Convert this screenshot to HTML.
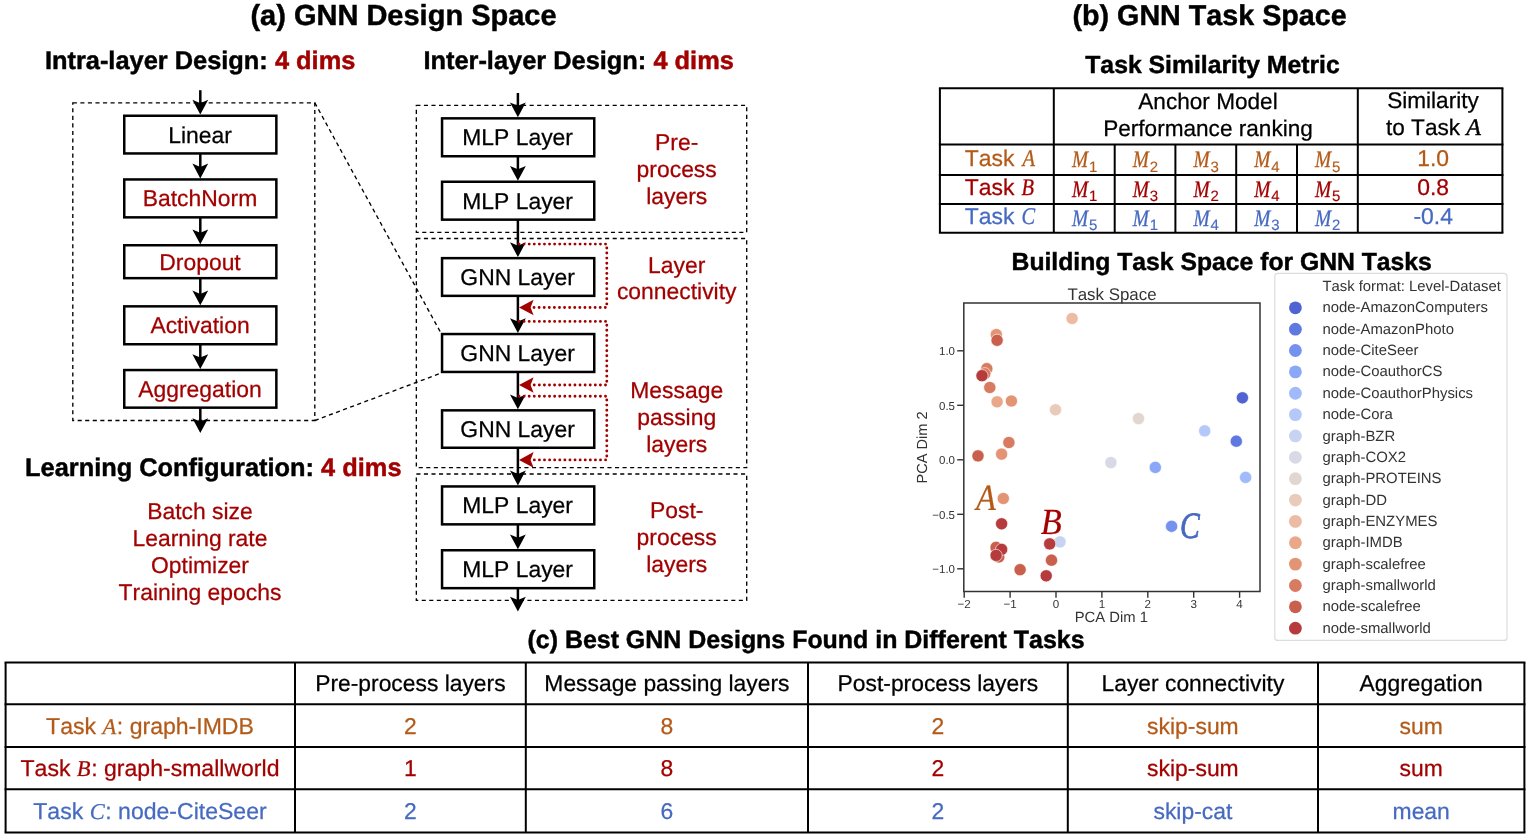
<!DOCTYPE html>
<html><head><meta charset="utf-8"><title>GNN Design Space</title>
<style>
html,body{margin:0;padding:0;background:#fff;}
body{width:1530px;height:837px;overflow:hidden;font-family:"Liberation Sans",sans-serif;}
svg{display:block;font-family:"Liberation Sans",sans-serif;will-change:transform;}
svg text{paint-order:stroke fill;font-kerning:none;text-rendering:geometricPrecision;}
</style></head><body>
<svg width="1530" height="837" viewBox="0 0 1530 837">
<rect width="1530" height="837" fill="#fff"/>
<text x="403.5" y="25.0" font-size="29.0" fill="#000" stroke="#000" stroke-width="0.45" text-anchor="middle" font-weight="bold" >(a) GNN Design Space</text>
<text x="44.9" y="69.2" font-size="25.4" font-weight="bold" stroke-width="0.45"><tspan stroke="#000">Intra-layer Design: </tspan><tspan fill="#a30000" stroke="#a30000">4 dims</tspan></text>
<text x="423.4" y="69.2" font-size="25.4" font-weight="bold" stroke-width="0.45"><tspan stroke="#000">Inter-layer Design: </tspan><tspan fill="#a30000" stroke="#a30000">4 dims</tspan></text>
<text x="25.1" y="476.3" font-size="25.38" font-weight="bold" stroke-width="0.45"><tspan stroke="#000">Learning Configuration: </tspan><tspan fill="#a30000" stroke="#a30000">4 dims</tspan></text>
<rect x="72.8" y="102.8" width="242.0" height="317.7" fill="none" stroke="#000" stroke-width="1.35" stroke-dasharray="4.1 3.45"/>
<line x1="200.3" y1="90.2" x2="200.3" y2="108.6" stroke="#000" stroke-width="2.5"/>
<path d="M200.3 114.6 L192.4 99.8 L200.3 103.19999999999999 L208.20000000000002 99.8 Z" fill="#000"/>
<line x1="200.3" y1="153.7" x2="200.3" y2="172.39999999999998" stroke="#000" stroke-width="2.5"/>
<path d="M200.3 178.39999999999998 L192.4 163.59999999999997 L200.3 166.99999999999997 L208.20000000000002 163.59999999999997 Z" fill="#000"/>
<line x1="200.3" y1="217.6" x2="200.3" y2="238.2" stroke="#000" stroke-width="2.5"/>
<path d="M200.3 244.2 L192.4 229.39999999999998 L200.3 232.79999999999998 L208.20000000000002 229.39999999999998 Z" fill="#000"/>
<line x1="200.3" y1="278.4" x2="200.3" y2="299.3" stroke="#000" stroke-width="2.5"/>
<path d="M200.3 305.3 L192.4 290.5 L200.3 293.90000000000003 L208.20000000000002 290.5 Z" fill="#000"/>
<line x1="200.3" y1="344.5" x2="200.3" y2="363.0" stroke="#000" stroke-width="2.5"/>
<path d="M200.3 369.0 L192.4 354.2 L200.3 357.6 L208.20000000000002 354.2 Z" fill="#000"/>
<line x1="200.3" y1="408" x2="200.3" y2="427" stroke="#000" stroke-width="2.5"/>
<path d="M200.3 433 L192.4 418.2 L200.3 421.6 L208.20000000000002 418.2 Z" fill="#000"/>
<rect x="124.25" y="115.75" width="152.10" height="37.70" fill="none" stroke="#000" stroke-width="2.5"/>
<text x="200.0" y="142.5" font-size="22.9" fill="#000" stroke="#000" stroke-width="0.25" text-anchor="middle" font-weight="normal" >Linear</text>
<rect x="124.25" y="179.45" width="152.10" height="37.90" fill="none" stroke="#000" stroke-width="2.5"/>
<text x="200.0" y="206.29999999999998" font-size="22.9" fill="#a30000" stroke="#a30000" stroke-width="0.25" text-anchor="middle" font-weight="normal" >BatchNorm</text>
<rect x="124.25" y="245.25" width="152.10" height="32.90" fill="none" stroke="#000" stroke-width="2.5"/>
<text x="200.0" y="269.59999999999997" font-size="22.9" fill="#a30000" stroke="#a30000" stroke-width="0.25" text-anchor="middle" font-weight="normal" >Dropout</text>
<rect x="124.25" y="306.35" width="152.10" height="37.90" fill="none" stroke="#000" stroke-width="2.5"/>
<text x="200.0" y="333.2" font-size="22.9" fill="#a30000" stroke="#a30000" stroke-width="0.25" text-anchor="middle" font-weight="normal" >Activation</text>
<rect x="124.25" y="370.05" width="152.10" height="37.60" fill="none" stroke="#000" stroke-width="2.5"/>
<text x="200.0" y="396.75" font-size="22.9" fill="#a30000" stroke="#a30000" stroke-width="0.25" text-anchor="middle" font-weight="normal" >Aggregation</text>
<line x1="314.8" y1="102.8" x2="440.8" y2="332.8" stroke="#000" stroke-width="1.35" stroke-dasharray="4.1 3.45"/>
<line x1="314.8" y1="420.5" x2="440.8" y2="373.2" stroke="#000" stroke-width="1.35" stroke-dasharray="4.1 3.45"/>
<text x="200" y="519.3" font-size="22.9" fill="#a30000" stroke="#a30000" stroke-width="0.25" text-anchor="middle" font-weight="normal" >Batch size</text>
<text x="200" y="546.15" font-size="22.9" fill="#a30000" stroke="#a30000" stroke-width="0.25" text-anchor="middle" font-weight="normal" >Learning rate</text>
<text x="200" y="573.0" font-size="22.9" fill="#a30000" stroke="#a30000" stroke-width="0.25" text-anchor="middle" font-weight="normal" >Optimizer</text>
<text x="200" y="599.8499999999999" font-size="22.9" fill="#a30000" stroke="#a30000" stroke-width="0.25" text-anchor="middle" font-weight="normal" >Training epochs</text>
<rect x="416.35" y="105.4" width="330.35" height="126.9" fill="none" stroke="#000" stroke-width="1.35" stroke-dasharray="4.1 3.45"/>
<rect x="416.35" y="238.5" width="330.35" height="229.10000000000002" fill="none" stroke="#000" stroke-width="1.35" stroke-dasharray="4.1 3.45"/>
<rect x="416.35" y="474.0" width="330.35" height="126.39999999999998" fill="none" stroke="#000" stroke-width="1.35" stroke-dasharray="4.1 3.45"/>
<line x1="517.9" y1="93" x2="517.9" y2="111.2" stroke="#000" stroke-width="2.5"/>
<path d="M517.9 117.2 L510.0 102.4 L517.9 105.8 L525.8 102.4 Z" fill="#000"/>
<line x1="517.9" y1="156.5" x2="517.9" y2="174.7" stroke="#000" stroke-width="2.5"/>
<path d="M517.9 180.7 L510.0 165.89999999999998 L517.9 169.29999999999998 L525.8 165.89999999999998 Z" fill="#000"/>
<line x1="517.9" y1="219.9" x2="517.9" y2="251.09999999999997" stroke="#000" stroke-width="2.5"/>
<path d="M517.9 257.09999999999997 L510.0 242.29999999999995 L517.9 245.69999999999996 L525.8 242.29999999999995 Z" fill="#000"/>
<line x1="517.9" y1="296.1" x2="517.9" y2="327.0" stroke="#000" stroke-width="2.5"/>
<path d="M517.9 333.0 L510.0 318.2 L517.9 321.6 L525.8 318.2 Z" fill="#000"/>
<line x1="517.9" y1="372.2" x2="517.9" y2="403.3" stroke="#000" stroke-width="2.5"/>
<path d="M517.9 409.3 L510.0 394.5 L517.9 397.90000000000003 L525.8 394.5 Z" fill="#000"/>
<line x1="517.9" y1="448.0" x2="517.9" y2="479.4" stroke="#000" stroke-width="2.5"/>
<path d="M517.9 485.4 L510.0 470.59999999999997 L517.9 474.0 L525.8 470.59999999999997 Z" fill="#000"/>
<line x1="517.9" y1="524.6" x2="517.9" y2="543.2" stroke="#000" stroke-width="2.5"/>
<path d="M517.9 549.2 L510.0 534.4000000000001 L517.9 537.8000000000001 L525.8 534.4000000000001 Z" fill="#000"/>
<line x1="517.9" y1="588.4" x2="517.9" y2="605.5" stroke="#000" stroke-width="2.5"/>
<path d="M517.9 611.5 L510.0 596.7 L517.9 600.1 L525.8 596.7 Z" fill="#000"/>
<rect x="442.05" y="118.35" width="152.20" height="37.90" fill="none" stroke="#000" stroke-width="2.5"/>
<text x="517.6" y="145.20000000000002" font-size="22.9" fill="#000" stroke="#000" stroke-width="0.25" text-anchor="middle" font-weight="normal" >MLP Layer</text>
<rect x="442.05" y="181.75" width="152.20" height="37.90" fill="none" stroke="#000" stroke-width="2.5"/>
<text x="517.6" y="208.6" font-size="22.9" fill="#000" stroke="#000" stroke-width="0.25" text-anchor="middle" font-weight="normal" >MLP Layer</text>
<rect x="442.05" y="258.15" width="152.20" height="37.70" fill="none" stroke="#000" stroke-width="2.5"/>
<text x="517.6" y="284.9" font-size="22.9" fill="#000" stroke="#000" stroke-width="0.25" text-anchor="middle" font-weight="normal" >GNN Layer</text>
<rect x="442.05" y="334.05" width="152.20" height="37.90" fill="none" stroke="#000" stroke-width="2.5"/>
<text x="517.6" y="360.9" font-size="22.9" fill="#000" stroke="#000" stroke-width="0.25" text-anchor="middle" font-weight="normal" >GNN Layer</text>
<rect x="442.05" y="410.35" width="152.20" height="37.40" fill="none" stroke="#000" stroke-width="2.5"/>
<text x="517.6" y="436.95" font-size="22.9" fill="#000" stroke="#000" stroke-width="0.25" text-anchor="middle" font-weight="normal" >GNN Layer</text>
<rect x="442.05" y="486.45" width="152.20" height="37.90" fill="none" stroke="#000" stroke-width="2.5"/>
<text x="517.6" y="513.3" font-size="22.9" fill="#000" stroke="#000" stroke-width="0.25" text-anchor="middle" font-weight="normal" >MLP Layer</text>
<rect x="442.05" y="550.25" width="152.20" height="37.90" fill="none" stroke="#000" stroke-width="2.5"/>
<text x="517.6" y="577.1" font-size="22.9" fill="#000" stroke="#000" stroke-width="0.25" text-anchor="middle" font-weight="normal" >MLP Layer</text>
<path d="M519.0 244.1 H606.8 V307.5 H531.9" fill="none" stroke="#a30000" stroke-width="2.9" stroke-linecap="round" stroke-dasharray="0.01 5.08"/>
<path d="M519.0 307.5 L533.6 299.7 L530.6 307.5 L533.6 315.3 Z" fill="#a30000"/>
<path d="M519.0 321.4 H606.8 V385.0 H531.9" fill="none" stroke="#a30000" stroke-width="2.9" stroke-linecap="round" stroke-dasharray="0.01 5.08"/>
<path d="M519.0 385.0 L533.6 377.2 L530.6 385.0 L533.6 392.8 Z" fill="#a30000"/>
<path d="M519.0 396.2 H606.8 V459.9 H531.9" fill="none" stroke="#a30000" stroke-width="2.9" stroke-linecap="round" stroke-dasharray="0.01 5.08"/>
<path d="M519.0 459.9 L533.6 452.09999999999997 L530.6 459.9 L533.6 467.7 Z" fill="#a30000"/>
<text x="676.7" y="150.4" font-size="22.9" fill="#a30000" stroke="#a30000" stroke-width="0.25" text-anchor="middle" font-weight="normal" >Pre-</text>
<text x="676.7" y="177.20000000000002" font-size="22.9" fill="#a30000" stroke="#a30000" stroke-width="0.25" text-anchor="middle" font-weight="normal" >process</text>
<text x="676.7" y="204.0" font-size="22.9" fill="#a30000" stroke="#a30000" stroke-width="0.25" text-anchor="middle" font-weight="normal" >layers</text>
<text x="676.7" y="272.5" font-size="22.9" fill="#a30000" stroke="#a30000" stroke-width="0.25" text-anchor="middle" font-weight="normal" >Layer</text>
<text x="676.7" y="299.3" font-size="22.9" fill="#a30000" stroke="#a30000" stroke-width="0.25" text-anchor="middle" font-weight="normal" >connectivity</text>
<text x="676.7" y="398.2" font-size="22.9" fill="#a30000" stroke="#a30000" stroke-width="0.25" text-anchor="middle" font-weight="normal" >Message</text>
<text x="676.7" y="425.0" font-size="22.9" fill="#a30000" stroke="#a30000" stroke-width="0.25" text-anchor="middle" font-weight="normal" >passing</text>
<text x="676.7" y="451.8" font-size="22.9" fill="#a30000" stroke="#a30000" stroke-width="0.25" text-anchor="middle" font-weight="normal" >layers</text>
<text x="676.7" y="518.1" font-size="22.9" fill="#a30000" stroke="#a30000" stroke-width="0.25" text-anchor="middle" font-weight="normal" >Post-</text>
<text x="676.7" y="544.9" font-size="22.9" fill="#a30000" stroke="#a30000" stroke-width="0.25" text-anchor="middle" font-weight="normal" >process</text>
<text x="676.7" y="571.7" font-size="22.9" fill="#a30000" stroke="#a30000" stroke-width="0.25" text-anchor="middle" font-weight="normal" >layers</text>
<text x="1209.6" y="25.0" font-size="28.7" fill="#000" stroke="#000" stroke-width="0.45" text-anchor="middle" font-weight="bold" >(b) GNN Task Space</text>
<text x="1212.5" y="72.6" font-size="24.75" fill="#000" stroke="#000" stroke-width="0.45" text-anchor="middle" font-weight="bold" >Task Similarity Metric</text>
<text x="1221.7" y="270.1" font-size="24.72" fill="#000" stroke="#000" stroke-width="0.45" text-anchor="middle" font-weight="bold" >Building Task Space for GNN Tasks</text>
<line x1="938.9" y1="88.2" x2="1503.4" y2="88.2" stroke="#000" stroke-width="2"/>
<line x1="938.9" y1="144.5" x2="1503.4" y2="144.5" stroke="#000" stroke-width="2"/>
<line x1="938.9" y1="175.1" x2="1503.4" y2="175.1" stroke="#000" stroke-width="2"/>
<line x1="938.9" y1="203.9" x2="1503.4" y2="203.9" stroke="#000" stroke-width="2"/>
<line x1="938.9" y1="232.7" x2="1503.4" y2="232.7" stroke="#000" stroke-width="2"/>
<line x1="939.9" y1="88.2" x2="939.9" y2="232.7" stroke="#000" stroke-width="2"/>
<line x1="1502.4" y1="88.2" x2="1502.4" y2="232.7" stroke="#000" stroke-width="2"/>
<line x1="1053.8" y1="88.2" x2="1053.8" y2="232.7" stroke="#000" stroke-width="2"/>
<line x1="1357.8" y1="88.2" x2="1357.8" y2="232.7" stroke="#000" stroke-width="2"/>
<line x1="1114.7" y1="144.5" x2="1114.7" y2="232.7" stroke="#000" stroke-width="2"/>
<line x1="1175.4" y1="144.5" x2="1175.4" y2="232.7" stroke="#000" stroke-width="2"/>
<line x1="1236.2" y1="144.5" x2="1236.2" y2="232.7" stroke="#000" stroke-width="2"/>
<line x1="1297" y1="144.5" x2="1297" y2="232.7" stroke="#000" stroke-width="2"/>
<text x="1208" y="108.6" font-size="22.6" fill="#000" stroke="#000" stroke-width="0.25" text-anchor="middle" font-weight="normal" >Anchor Model</text>
<text x="1208" y="135.6" font-size="22.6" fill="#000" stroke="#000" stroke-width="0.25" text-anchor="middle" font-weight="normal" >Performance ranking</text>
<text x="1433" y="108.3" font-size="22.6" fill="#000" stroke="#000" stroke-width="0.25" text-anchor="middle" font-weight="normal" >Similarity</text>
<text x="1433.5" y="135.4" font-size="22.6" text-anchor="middle" stroke="#000" stroke-width="0.25">to Task <tspan font-family="Liberation Serif" font-style="italic" font-size="24" stroke-width="0.4">A</tspan></text>
<text x="1014.4" y="165.7" font-size="22.9" fill="#b35a18" stroke="#b35a18" stroke-width="0.25" text-anchor="end">Task</text>
<text transform="translate(1022.6,165.7) scale(0.86,1)" font-size="23.8" fill="#b35a18" stroke="#b35a18" stroke-width="0.3" font-family="Liberation Serif" font-style="italic">A</text>
<text transform="translate(1071.95,167.0) scale(0.82,1)" font-size="23.6" fill="#b35a18" stroke="#b35a18" stroke-width="0.3" font-family="Liberation Serif" font-style="italic">M</text>
<text x="1088.95" y="171.7" font-size="15" fill="#b35a18" stroke="#b35a18" stroke-width="0.15">1</text>
<text transform="translate(1132.75,167.0) scale(0.82,1)" font-size="23.6" fill="#b35a18" stroke="#b35a18" stroke-width="0.3" font-family="Liberation Serif" font-style="italic">M</text>
<text x="1149.75" y="171.7" font-size="15" fill="#b35a18" stroke="#b35a18" stroke-width="0.15">2</text>
<text transform="translate(1193.50,167.0) scale(0.82,1)" font-size="23.6" fill="#b35a18" stroke="#b35a18" stroke-width="0.3" font-family="Liberation Serif" font-style="italic">M</text>
<text x="1210.50" y="171.7" font-size="15" fill="#b35a18" stroke="#b35a18" stroke-width="0.15">3</text>
<text transform="translate(1254.30,167.0) scale(0.82,1)" font-size="23.6" fill="#b35a18" stroke="#b35a18" stroke-width="0.3" font-family="Liberation Serif" font-style="italic">M</text>
<text x="1271.30" y="171.7" font-size="15" fill="#b35a18" stroke="#b35a18" stroke-width="0.15">4</text>
<text transform="translate(1315.10,167.0) scale(0.82,1)" font-size="23.6" fill="#b35a18" stroke="#b35a18" stroke-width="0.3" font-family="Liberation Serif" font-style="italic">M</text>
<text x="1332.10" y="171.7" font-size="15" fill="#b35a18" stroke="#b35a18" stroke-width="0.15">5</text>
<text x="1433.2" y="165.7" font-size="22.9" fill="#b35a18" stroke="#b35a18" stroke-width="0.25" text-anchor="middle" font-weight="normal" >1.0</text>
<text x="1014.4" y="195.2" font-size="22.9" fill="#a30000" stroke="#a30000" stroke-width="0.25" text-anchor="end">Task</text>
<text transform="translate(1021.6,195.2) scale(0.86,1)" font-size="23.8" fill="#a30000" stroke="#a30000" stroke-width="0.3" font-family="Liberation Serif" font-style="italic">B</text>
<text transform="translate(1071.95,196.5) scale(0.82,1)" font-size="23.6" fill="#a30000" stroke="#a30000" stroke-width="0.3" font-family="Liberation Serif" font-style="italic">M</text>
<text x="1088.95" y="201.2" font-size="15" fill="#a30000" stroke="#a30000" stroke-width="0.15">1</text>
<text transform="translate(1132.75,196.5) scale(0.82,1)" font-size="23.6" fill="#a30000" stroke="#a30000" stroke-width="0.3" font-family="Liberation Serif" font-style="italic">M</text>
<text x="1149.75" y="201.2" font-size="15" fill="#a30000" stroke="#a30000" stroke-width="0.15">3</text>
<text transform="translate(1193.50,196.5) scale(0.82,1)" font-size="23.6" fill="#a30000" stroke="#a30000" stroke-width="0.3" font-family="Liberation Serif" font-style="italic">M</text>
<text x="1210.50" y="201.2" font-size="15" fill="#a30000" stroke="#a30000" stroke-width="0.15">2</text>
<text transform="translate(1254.30,196.5) scale(0.82,1)" font-size="23.6" fill="#a30000" stroke="#a30000" stroke-width="0.3" font-family="Liberation Serif" font-style="italic">M</text>
<text x="1271.30" y="201.2" font-size="15" fill="#a30000" stroke="#a30000" stroke-width="0.15">4</text>
<text transform="translate(1315.10,196.5) scale(0.82,1)" font-size="23.6" fill="#a30000" stroke="#a30000" stroke-width="0.3" font-family="Liberation Serif" font-style="italic">M</text>
<text x="1332.10" y="201.2" font-size="15" fill="#a30000" stroke="#a30000" stroke-width="0.15">5</text>
<text x="1433.2" y="195.2" font-size="22.9" fill="#a30000" stroke="#a30000" stroke-width="0.25" text-anchor="middle" font-weight="normal" >0.8</text>
<text x="1014.4" y="224.2" font-size="22.9" fill="#4669c1" stroke="#4669c1" stroke-width="0.25" text-anchor="end">Task</text>
<text transform="translate(1021.6,224.2) scale(0.86,1)" font-size="23.8" fill="#4669c1" stroke="#4669c1" stroke-width="0.3" font-family="Liberation Serif" font-style="italic">C</text>
<text transform="translate(1071.95,225.5) scale(0.82,1)" font-size="23.6" fill="#4669c1" stroke="#4669c1" stroke-width="0.3" font-family="Liberation Serif" font-style="italic">M</text>
<text x="1088.95" y="230.2" font-size="15" fill="#4669c1" stroke="#4669c1" stroke-width="0.15">5</text>
<text transform="translate(1132.75,225.5) scale(0.82,1)" font-size="23.6" fill="#4669c1" stroke="#4669c1" stroke-width="0.3" font-family="Liberation Serif" font-style="italic">M</text>
<text x="1149.75" y="230.2" font-size="15" fill="#4669c1" stroke="#4669c1" stroke-width="0.15">1</text>
<text transform="translate(1193.50,225.5) scale(0.82,1)" font-size="23.6" fill="#4669c1" stroke="#4669c1" stroke-width="0.3" font-family="Liberation Serif" font-style="italic">M</text>
<text x="1210.50" y="230.2" font-size="15" fill="#4669c1" stroke="#4669c1" stroke-width="0.15">4</text>
<text transform="translate(1254.30,225.5) scale(0.82,1)" font-size="23.6" fill="#4669c1" stroke="#4669c1" stroke-width="0.3" font-family="Liberation Serif" font-style="italic">M</text>
<text x="1271.30" y="230.2" font-size="15" fill="#4669c1" stroke="#4669c1" stroke-width="0.15">3</text>
<text transform="translate(1315.10,225.5) scale(0.82,1)" font-size="23.6" fill="#4669c1" stroke="#4669c1" stroke-width="0.3" font-family="Liberation Serif" font-style="italic">M</text>
<text x="1332.10" y="230.2" font-size="15" fill="#4669c1" stroke="#4669c1" stroke-width="0.15">2</text>
<text x="1433.2" y="224.2" font-size="22.9" fill="#4669c1" stroke="#4669c1" stroke-width="0.25" text-anchor="middle" font-weight="normal" >-0.4</text>
<rect x="963.8" y="303.0" width="296.20000000000005" height="288.5" fill="#fff" stroke="#333" stroke-width="1.5"/>
<text x="1112" y="299.7" font-size="16.9" fill="#333" stroke="#333" stroke-width="0" text-anchor="middle" font-weight="normal" >Task Space</text>
<text x="1111.3" y="622.3" font-size="14.8" fill="#333" stroke="#333" stroke-width="0" text-anchor="middle" font-weight="normal" >PCA Dim 1</text>
<text transform="translate(926.7,447.5) rotate(-90)" font-size="14.6" fill="#333" text-anchor="middle">PCA Dim 2</text>
<line x1="964.2" y1="591.5" x2="964.2" y2="597.8" stroke="#333" stroke-width="1.4"/>
<text x="964.2" y="608.0" font-size="11.6" fill="#333" stroke="#333" stroke-width="0" text-anchor="middle" font-weight="normal" >−2</text>
<line x1="1010.1" y1="591.5" x2="1010.1" y2="597.8" stroke="#333" stroke-width="1.4"/>
<text x="1010.1" y="608.0" font-size="11.6" fill="#333" stroke="#333" stroke-width="0" text-anchor="middle" font-weight="normal" >−1</text>
<line x1="1056.0" y1="591.5" x2="1056.0" y2="597.8" stroke="#333" stroke-width="1.4"/>
<text x="1056.0" y="608.0" font-size="11.6" fill="#333" stroke="#333" stroke-width="0" text-anchor="middle" font-weight="normal" >0</text>
<line x1="1101.9" y1="591.5" x2="1101.9" y2="597.8" stroke="#333" stroke-width="1.4"/>
<text x="1101.9" y="608.0" font-size="11.6" fill="#333" stroke="#333" stroke-width="0" text-anchor="middle" font-weight="normal" >1</text>
<line x1="1147.8" y1="591.5" x2="1147.8" y2="597.8" stroke="#333" stroke-width="1.4"/>
<text x="1147.8" y="608.0" font-size="11.6" fill="#333" stroke="#333" stroke-width="0" text-anchor="middle" font-weight="normal" >2</text>
<line x1="1193.7" y1="591.5" x2="1193.7" y2="597.8" stroke="#333" stroke-width="1.4"/>
<text x="1193.7" y="608.0" font-size="11.6" fill="#333" stroke="#333" stroke-width="0" text-anchor="middle" font-weight="normal" >3</text>
<line x1="1239.6" y1="591.5" x2="1239.6" y2="597.8" stroke="#333" stroke-width="1.4"/>
<text x="1239.6" y="608.0" font-size="11.6" fill="#333" stroke="#333" stroke-width="0" text-anchor="middle" font-weight="normal" >4</text>
<line x1="957.2" y1="350.8" x2="963.8" y2="350.8" stroke="#333" stroke-width="1.4"/>
<text x="955.0" y="355.2" font-size="11.5" fill="#333" stroke="#333" stroke-width="0" text-anchor="end" font-weight="normal" >1.0</text>
<line x1="957.2" y1="405.3" x2="963.8" y2="405.3" stroke="#333" stroke-width="1.4"/>
<text x="955.0" y="409.7" font-size="11.5" fill="#333" stroke="#333" stroke-width="0" text-anchor="end" font-weight="normal" >0.5</text>
<line x1="957.2" y1="459.8" x2="963.8" y2="459.8" stroke="#333" stroke-width="1.4"/>
<text x="955.0" y="464.2" font-size="11.5" fill="#333" stroke="#333" stroke-width="0" text-anchor="end" font-weight="normal" >0.0</text>
<line x1="957.2" y1="514.3" x2="963.8" y2="514.3" stroke="#333" stroke-width="1.4"/>
<text x="955.0" y="518.6999999999999" font-size="11.5" fill="#333" stroke="#333" stroke-width="0" text-anchor="end" font-weight="normal" >−0.5</text>
<line x1="957.2" y1="568.8" x2="963.8" y2="568.8" stroke="#333" stroke-width="1.4"/>
<text x="955.0" y="573.1999999999999" font-size="11.5" fill="#333" stroke="#333" stroke-width="0" text-anchor="end" font-weight="normal" >−1.0</text>
<circle cx="1060" cy="541.9" r="6.1" fill="#c6d3f1" stroke="#fff" stroke-width="0.7" stroke-opacity="0.85"/>
<circle cx="1072.1" cy="318.5" r="6.1" fill="#ecbba3" stroke="#fff" stroke-width="0.7" stroke-opacity="0.85"/>
<circle cx="996.3" cy="334.6" r="6.1" fill="#e39475" stroke="#fff" stroke-width="0.7" stroke-opacity="0.85"/>
<circle cx="997.1" cy="340.3" r="6.1" fill="#c9604e" stroke="#fff" stroke-width="0.7" stroke-opacity="0.85"/>
<circle cx="986.8" cy="368.7" r="6.1" fill="#d77b61" stroke="#fff" stroke-width="0.7" stroke-opacity="0.85"/>
<circle cx="984.8" cy="373.7" r="6.1" fill="#d77b61" stroke="#fff" stroke-width="0.7" stroke-opacity="0.85"/>
<circle cx="982" cy="375.7" r="6.1" fill="#b63b3c" stroke="#fff" stroke-width="0.7" stroke-opacity="0.85"/>
<circle cx="989.8" cy="387.5" r="6.1" fill="#d77b61" stroke="#fff" stroke-width="0.7" stroke-opacity="0.85"/>
<circle cx="997.1" cy="401.8" r="6.1" fill="#eaa88b" stroke="#fff" stroke-width="0.7" stroke-opacity="0.85"/>
<circle cx="1011.4" cy="401" r="6.1" fill="#e39475" stroke="#fff" stroke-width="0.7" stroke-opacity="0.85"/>
<circle cx="1055.5" cy="409.8" r="6.1" fill="#e9cbbb" stroke="#fff" stroke-width="0.7" stroke-opacity="0.85"/>
<circle cx="1138.5" cy="418.6" r="6.1" fill="#e1d7d0" stroke="#fff" stroke-width="0.7" stroke-opacity="0.85"/>
<circle cx="1242.4" cy="397.8" r="6.1" fill="#4f64d2" stroke="#fff" stroke-width="0.7" stroke-opacity="0.85"/>
<circle cx="1204.7" cy="430.9" r="6.1" fill="#b4c8f9" stroke="#fff" stroke-width="0.7" stroke-opacity="0.85"/>
<circle cx="1236.3" cy="441.2" r="6.1" fill="#5f79e0" stroke="#fff" stroke-width="0.7" stroke-opacity="0.85"/>
<circle cx="1008.9" cy="442.5" r="6.1" fill="#d77b61" stroke="#fff" stroke-width="0.7" stroke-opacity="0.85"/>
<circle cx="978" cy="455.9" r="6.1" fill="#c9604e" stroke="#fff" stroke-width="0.7" stroke-opacity="0.85"/>
<circle cx="1001.6" cy="454.1" r="6.1" fill="#e39475" stroke="#fff" stroke-width="0.7" stroke-opacity="0.85"/>
<circle cx="1110.9" cy="462.6" r="6.1" fill="#d5dae4" stroke="#fff" stroke-width="0.7" stroke-opacity="0.85"/>
<circle cx="1155.3" cy="467.4" r="6.1" fill="#8aa7f8" stroke="#fff" stroke-width="0.7" stroke-opacity="0.85"/>
<circle cx="1245.6" cy="477.4" r="6.1" fill="#a0bafb" stroke="#fff" stroke-width="0.7" stroke-opacity="0.85"/>
<circle cx="1003.3" cy="498.5" r="6.1" fill="#e39475" stroke="#fff" stroke-width="0.7" stroke-opacity="0.85"/>
<circle cx="1001.6" cy="523.8" r="6.1" fill="#b63b3c" stroke="#fff" stroke-width="0.7" stroke-opacity="0.85"/>
<circle cx="1049.7" cy="543.9" r="6.1" fill="#b63b3c" stroke="#fff" stroke-width="0.7" stroke-opacity="0.85"/>
<circle cx="1171.6" cy="526.3" r="6.1" fill="#7492ee" stroke="#fff" stroke-width="0.7" stroke-opacity="0.85"/>
<circle cx="996.1" cy="547.4" r="6.1" fill="#c9604e" stroke="#fff" stroke-width="0.7" stroke-opacity="0.85"/>
<circle cx="998.8" cy="556.9" r="6.1" fill="#c9604e" stroke="#fff" stroke-width="0.7" stroke-opacity="0.85"/>
<circle cx="1001.6" cy="549.4" r="6.1" fill="#b63b3c" stroke="#fff" stroke-width="0.7" stroke-opacity="0.85"/>
<circle cx="996.1" cy="555.4" r="6.1" fill="#b63b3c" stroke="#fff" stroke-width="0.7" stroke-opacity="0.85"/>
<circle cx="1051.5" cy="560.2" r="6.1" fill="#c9604e" stroke="#fff" stroke-width="0.7" stroke-opacity="0.85"/>
<circle cx="1020.1" cy="569.7" r="6.1" fill="#c9604e" stroke="#fff" stroke-width="0.7" stroke-opacity="0.85"/>
<circle cx="1046.2" cy="575.8" r="6.1" fill="#b63b3c" stroke="#fff" stroke-width="0.7" stroke-opacity="0.85"/>
<text transform="translate(975.9,510.0) scale(0.88,1)" font-size="37" fill="#b35a18" stroke="#b35a18" stroke-width="0.2" font-family="Liberation Serif" font-style="italic">A</text>
<text transform="translate(1040.8,534.0) scale(0.93,1)" font-size="37" fill="#a30000" stroke="#a30000" stroke-width="0.2" font-family="Liberation Serif" font-style="italic">B</text>
<text transform="translate(1180.0,537.6) scale(0.8,1)" font-size="37" fill="#4669c1" stroke="#4669c1" stroke-width="0.8" font-family="Liberation Serif" font-style="italic">C</text>
<rect x="1274.8" y="273.4" width="232.2" height="367" rx="3" fill="#fff" stroke="#dcdcdc" stroke-width="1.2"/>
<text x="1322.4" y="290.9" font-size="14.87" fill="#333" stroke="#333" stroke-width="0" text-anchor="start" font-weight="normal" >Task format: Level-Dataset</text>
<circle cx="1295.4" cy="307.8" r="6.4" fill="#4f64d2"/>
<text x="1322.4" y="312.40000000000003" font-size="14.9" fill="#333" stroke="#333" stroke-width="0" text-anchor="start" font-weight="normal" >node-AmazonComputers</text>
<circle cx="1295.4" cy="329.16" r="6.4" fill="#5f79e0"/>
<text x="1322.4" y="333.76000000000005" font-size="14.9" fill="#333" stroke="#333" stroke-width="0" text-anchor="start" font-weight="normal" >node-AmazonPhoto</text>
<circle cx="1295.4" cy="350.52" r="6.4" fill="#7492ee"/>
<text x="1322.4" y="355.12" font-size="14.9" fill="#333" stroke="#333" stroke-width="0" text-anchor="start" font-weight="normal" >node-CiteSeer</text>
<circle cx="1295.4" cy="371.88" r="6.4" fill="#8aa7f8"/>
<text x="1322.4" y="376.48" font-size="14.9" fill="#333" stroke="#333" stroke-width="0" text-anchor="start" font-weight="normal" >node-CoauthorCS</text>
<circle cx="1295.4" cy="393.24" r="6.4" fill="#a0bafb"/>
<text x="1322.4" y="397.84000000000003" font-size="14.9" fill="#333" stroke="#333" stroke-width="0" text-anchor="start" font-weight="normal" >node-CoauthorPhysics</text>
<circle cx="1295.4" cy="414.6" r="6.4" fill="#b4c8f9"/>
<text x="1322.4" y="419.20000000000005" font-size="14.9" fill="#333" stroke="#333" stroke-width="0" text-anchor="start" font-weight="normal" >node-Cora</text>
<circle cx="1295.4" cy="435.96000000000004" r="6.4" fill="#c6d3f1"/>
<text x="1322.4" y="440.56000000000006" font-size="14.9" fill="#333" stroke="#333" stroke-width="0" text-anchor="start" font-weight="normal" >graph-BZR</text>
<circle cx="1295.4" cy="457.32" r="6.4" fill="#d5dae4"/>
<text x="1322.4" y="461.92" font-size="14.9" fill="#333" stroke="#333" stroke-width="0" text-anchor="start" font-weight="normal" >graph-COX2</text>
<circle cx="1295.4" cy="478.68" r="6.4" fill="#e1d7d0"/>
<text x="1322.4" y="483.28000000000003" font-size="14.9" fill="#333" stroke="#333" stroke-width="0" text-anchor="start" font-weight="normal" >graph-PROTEINS</text>
<circle cx="1295.4" cy="500.04" r="6.4" fill="#e9cbbb"/>
<text x="1322.4" y="504.64000000000004" font-size="14.9" fill="#333" stroke="#333" stroke-width="0" text-anchor="start" font-weight="normal" >graph-DD</text>
<circle cx="1295.4" cy="521.4" r="6.4" fill="#ecbba3"/>
<text x="1322.4" y="526.0" font-size="14.9" fill="#333" stroke="#333" stroke-width="0" text-anchor="start" font-weight="normal" >graph-ENZYMES</text>
<circle cx="1295.4" cy="542.76" r="6.4" fill="#eaa88b"/>
<text x="1322.4" y="547.36" font-size="14.9" fill="#333" stroke="#333" stroke-width="0" text-anchor="start" font-weight="normal" >graph-IMDB</text>
<circle cx="1295.4" cy="564.12" r="6.4" fill="#e39475"/>
<text x="1322.4" y="568.72" font-size="14.9" fill="#333" stroke="#333" stroke-width="0" text-anchor="start" font-weight="normal" >graph-scalefree</text>
<circle cx="1295.4" cy="585.48" r="6.4" fill="#d77b61"/>
<text x="1322.4" y="590.08" font-size="14.9" fill="#333" stroke="#333" stroke-width="0" text-anchor="start" font-weight="normal" >graph-smallworld</text>
<circle cx="1295.4" cy="606.8399999999999" r="6.4" fill="#c9604e"/>
<text x="1322.4" y="611.4399999999999" font-size="14.9" fill="#333" stroke="#333" stroke-width="0" text-anchor="start" font-weight="normal" >node-scalefree</text>
<circle cx="1295.4" cy="628.2" r="6.4" fill="#b63b3c"/>
<text x="1322.4" y="632.8000000000001" font-size="14.9" fill="#333" stroke="#333" stroke-width="0" text-anchor="start" font-weight="normal" >node-smallworld</text>
<text x="806" y="647.7" font-size="24.95" fill="#000" stroke="#000" stroke-width="0.45" text-anchor="middle" font-weight="bold" >(c) Best GNN Designs Found in Different Tasks</text>
<line x1="4.6" y1="662.5" x2="1525.4" y2="662.5" stroke="#000" stroke-width="2"/>
<line x1="4.6" y1="704.3" x2="1525.4" y2="704.3" stroke="#000" stroke-width="2"/>
<line x1="4.6" y1="746.9" x2="1525.4" y2="746.9" stroke="#000" stroke-width="2"/>
<line x1="4.6" y1="789.2" x2="1525.4" y2="789.2" stroke="#000" stroke-width="2"/>
<line x1="4.6" y1="832.4" x2="1525.4" y2="832.4" stroke="#000" stroke-width="2"/>
<line x1="5.6" y1="662.5" x2="5.6" y2="832.4" stroke="#000" stroke-width="2"/>
<line x1="295" y1="662.5" x2="295" y2="832.4" stroke="#000" stroke-width="2"/>
<line x1="525.8" y1="662.5" x2="525.8" y2="832.4" stroke="#000" stroke-width="2"/>
<line x1="808" y1="662.5" x2="808" y2="832.4" stroke="#000" stroke-width="2"/>
<line x1="1067.8" y1="662.5" x2="1067.8" y2="832.4" stroke="#000" stroke-width="2"/>
<line x1="1318" y1="662.5" x2="1318" y2="832.4" stroke="#000" stroke-width="2"/>
<line x1="1524.4" y1="662.5" x2="1524.4" y2="832.4" stroke="#000" stroke-width="2"/>
<text x="410.4" y="690.7" font-size="22.85" fill="#000" stroke="#000" stroke-width="0.25" text-anchor="middle" font-weight="normal" >Pre-process layers</text>
<text x="666.9" y="690.7" font-size="22.85" fill="#000" stroke="#000" stroke-width="0.25" text-anchor="middle" font-weight="normal" >Message passing layers</text>
<text x="937.9" y="690.7" font-size="22.85" fill="#000" stroke="#000" stroke-width="0.25" text-anchor="middle" font-weight="normal" >Post-process layers</text>
<text x="1192.9" y="690.7" font-size="22.85" fill="#000" stroke="#000" stroke-width="0.25" text-anchor="middle" font-weight="normal" >Layer connectivity</text>
<text x="1421.2" y="690.7" font-size="22.85" fill="#000" stroke="#000" stroke-width="0.25" text-anchor="middle" font-weight="normal" >Aggregation</text>
<text x="150.0" y="733.8" font-size="23.05" fill="#b35a18" stroke="#b35a18" stroke-width="0.25" text-anchor="middle">Task <tspan font-family="Liberation Serif" font-style="italic" font-size="22.5">A</tspan><tspan dx="0.6">: graph-IMDB</tspan></text>
<text x="410.4" y="733.8" font-size="22.9" fill="#b35a18" stroke="#b35a18" stroke-width="0.25" text-anchor="middle" font-weight="normal" >2</text>
<text x="666.9" y="733.8" font-size="22.9" fill="#b35a18" stroke="#b35a18" stroke-width="0.25" text-anchor="middle" font-weight="normal" >8</text>
<text x="937.9" y="733.8" font-size="22.9" fill="#b35a18" stroke="#b35a18" stroke-width="0.25" text-anchor="middle" font-weight="normal" >2</text>
<text x="1192.9" y="733.8" font-size="22.9" fill="#b35a18" stroke="#b35a18" stroke-width="0.25" text-anchor="middle" font-weight="normal" >skip-sum</text>
<text x="1421.2" y="733.8" font-size="22.9" fill="#b35a18" stroke="#b35a18" stroke-width="0.25" text-anchor="middle" font-weight="normal" >sum</text>
<text x="150.0" y="775.7" font-size="23.05" fill="#a30000" stroke="#a30000" stroke-width="0.25" text-anchor="middle">Task <tspan font-family="Liberation Serif" font-style="italic" font-size="22.5">B</tspan><tspan dx="0.6">: graph-smallworld</tspan></text>
<text x="410.4" y="775.7" font-size="22.9" fill="#a30000" stroke="#a30000" stroke-width="0.25" text-anchor="middle" font-weight="normal" >1</text>
<text x="666.9" y="775.7" font-size="22.9" fill="#a30000" stroke="#a30000" stroke-width="0.25" text-anchor="middle" font-weight="normal" >8</text>
<text x="937.9" y="775.7" font-size="22.9" fill="#a30000" stroke="#a30000" stroke-width="0.25" text-anchor="middle" font-weight="normal" >2</text>
<text x="1192.9" y="775.7" font-size="22.9" fill="#a30000" stroke="#a30000" stroke-width="0.25" text-anchor="middle" font-weight="normal" >skip-sum</text>
<text x="1421.2" y="775.7" font-size="22.9" fill="#a30000" stroke="#a30000" stroke-width="0.25" text-anchor="middle" font-weight="normal" >sum</text>
<text x="150.0" y="818.8" font-size="23.05" fill="#4669c1" stroke="#4669c1" stroke-width="0.25" text-anchor="middle">Task <tspan font-family="Liberation Serif" font-style="italic" font-size="22.5">C</tspan><tspan dx="0.6">: node-CiteSeer</tspan></text>
<text x="410.4" y="818.8" font-size="22.9" fill="#4669c1" stroke="#4669c1" stroke-width="0.25" text-anchor="middle" font-weight="normal" >2</text>
<text x="666.9" y="818.8" font-size="22.9" fill="#4669c1" stroke="#4669c1" stroke-width="0.25" text-anchor="middle" font-weight="normal" >6</text>
<text x="937.9" y="818.8" font-size="22.9" fill="#4669c1" stroke="#4669c1" stroke-width="0.25" text-anchor="middle" font-weight="normal" >2</text>
<text x="1192.9" y="818.8" font-size="22.9" fill="#4669c1" stroke="#4669c1" stroke-width="0.25" text-anchor="middle" font-weight="normal" >skip-cat</text>
<text x="1421.2" y="818.8" font-size="22.9" fill="#4669c1" stroke="#4669c1" stroke-width="0.25" text-anchor="middle" font-weight="normal" >mean</text>
</svg>
</body></html>
